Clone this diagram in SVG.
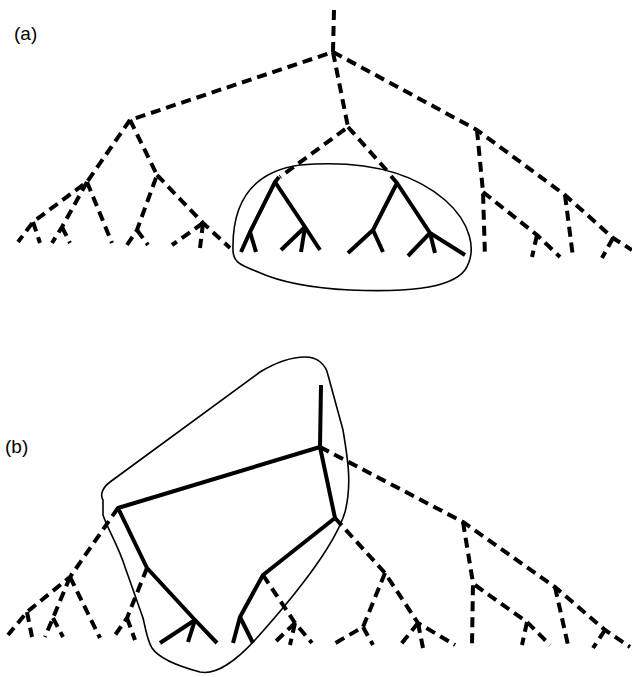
<svg xmlns="http://www.w3.org/2000/svg" width="632" height="677" viewBox="0 0 632 677">
<style>
.d{fill:none;stroke:#000;stroke-width:4;stroke-dasharray:10 6;stroke-linejoin:round}
.s{fill:none;stroke:#000;stroke-width:4;stroke-linejoin:round}
.o{fill:none;stroke:#000;stroke-width:1.6}
.t{font-family:"Liberation Sans",Arial,sans-serif;font-size:19px;fill:#000}
</style>
<rect width="632" height="677" fill="#fff"/>
<g id="label-a"><text class="t" x="14" y="40">(a)</text></g>
<g id="label-b"><text class="t" x="5" y="453">(b)</text></g>
<g id="outline-a"><path class="o" d="M233,250 C232,205 250,172 300,165 C360,160 410,170 445,200 C470,222 478,250 465,270 C450,290 400,292 350,290 C310,288 280,282 258,272 C240,265 233,262 233,250 Z"/></g>
<g id="outline-b"><path class="o" d="M103,500 C100,495 102,488 110,482 L260,372 C280,360 295,357 305,357 C318,357 326,365 328,375 L343,430 C348,460 352,485 345,512 C335,545 300,590 255,640 C235,662 215,675 200,672 C185,668 160,660 152,648 C147,640 146,630 143,618 L125,567 C118,545 108,530 103,515 Z"/></g>
<g id="connectors">
<g id="tree-a-dashed">
<path class="d" d="M334,10 L333,52 L130,120"/>
<path class="d" d="M333,52 L348,127 L280,177"/>
<path class="d" d="M348,127 L390,174"/>
<path class="d" d="M333,52 L477,130 L565,195 L613,238 L632,250"/>
<path class="d" d="M130,120 L87,182 L33,222 L18,242"/>
<path class="d" d="M33,222 L40,243"/>
<path class="d" d="M87,182 L62,227 L52,243"/>
<path class="d" d="M62,227 L70,243"/>
<path class="d" d="M87,182 L112,243"/>
<path class="d" d="M130,120 L157,175 L137,230 L127,245"/>
<path class="d" d="M137,230 L148,245"/>
<path class="d" d="M157,175 L203,223 L230,248"/>
<path class="d" d="M203,223 L172,245"/>
<path class="d" d="M203,223 L200,248"/>
<path class="d" d="M477,130 L483,192 L485,257"/>
<path class="d" d="M483,192 L537,235 L560,257"/>
<path class="d" d="M537,235 L532,257"/>
<path class="d" d="M565,195 L573,257"/>
<path class="d" d="M613,238 L602,258"/>
</g>
<g id="tree-a-solid">
<path class="s" d="M279,177 L275,182 L250,232 L241,252"/>
<path class="s" d="M250,232 L256,252"/>
<path class="s" d="M275,182 L305,227 L320,250"/>
<path class="s" d="M305,227 L281,250"/>
<path class="s" d="M305,227 L301,252"/>
<path class="s" d="M391,176 L397,183 L373,230 L348,253"/>
<path class="s" d="M373,230 L383,252"/>
<path class="s" d="M397,183 L430,233 L465,255"/>
<path class="s" d="M430,233 L408,256"/>
<path class="s" d="M430,233 L435,253"/>
</g>
<g id="tree-b-solid">
<path class="s" d="M321,385 L320,447 L118,508 L147,568 L195,620 L217,643"/>
<path class="s" d="M195,620 L160,643"/>
<path class="s" d="M195,620 L188,642"/>
<path class="s" d="M320,447 L335,518 L263,575 L240,617 L233,643"/>
<path class="s" d="M240,617 L253,643"/>
</g>
<g id="tree-b-dashed">
<path class="d" d="M118,508 L70,577 L27,612 L8,635"/>
<path class="d" d="M27,612 L32,637"/>
<path class="d" d="M70,577 L53,618 L45,637"/>
<path class="d" d="M53,618 L63,637"/>
<path class="d" d="M70,577 L100,638"/>
<path class="d" d="M147,568 L127,618 L113,638"/>
<path class="d" d="M127,618 L135,640"/>
<path class="d" d="M263,575 L295,623 L312,643"/>
<path class="d" d="M295,623 L272,645"/>
<path class="d" d="M295,623 L290,645"/>
<path class="d" d="M320,447 L463,522 L555,587 L605,630 L630,647"/>
<path class="d" d="M605,630 L593,648"/>
<path class="d" d="M555,587 L568,645"/>
<path class="d" d="M463,522 L473,583 L472,645"/>
<path class="d" d="M475,585 L527,622 L550,645"/>
<path class="d" d="M527,622 L522,645"/>
<path class="d" d="M335,518 L385,573 L418,623 L455,645"/>
<path class="d" d="M418,623 L398,648"/>
<path class="d" d="M418,623 L423,648"/>
<path class="d" d="M385,573 L363,627 L332,645"/>
<path class="d" d="M363,627 L373,645"/>
</g>
</g>
</svg>
